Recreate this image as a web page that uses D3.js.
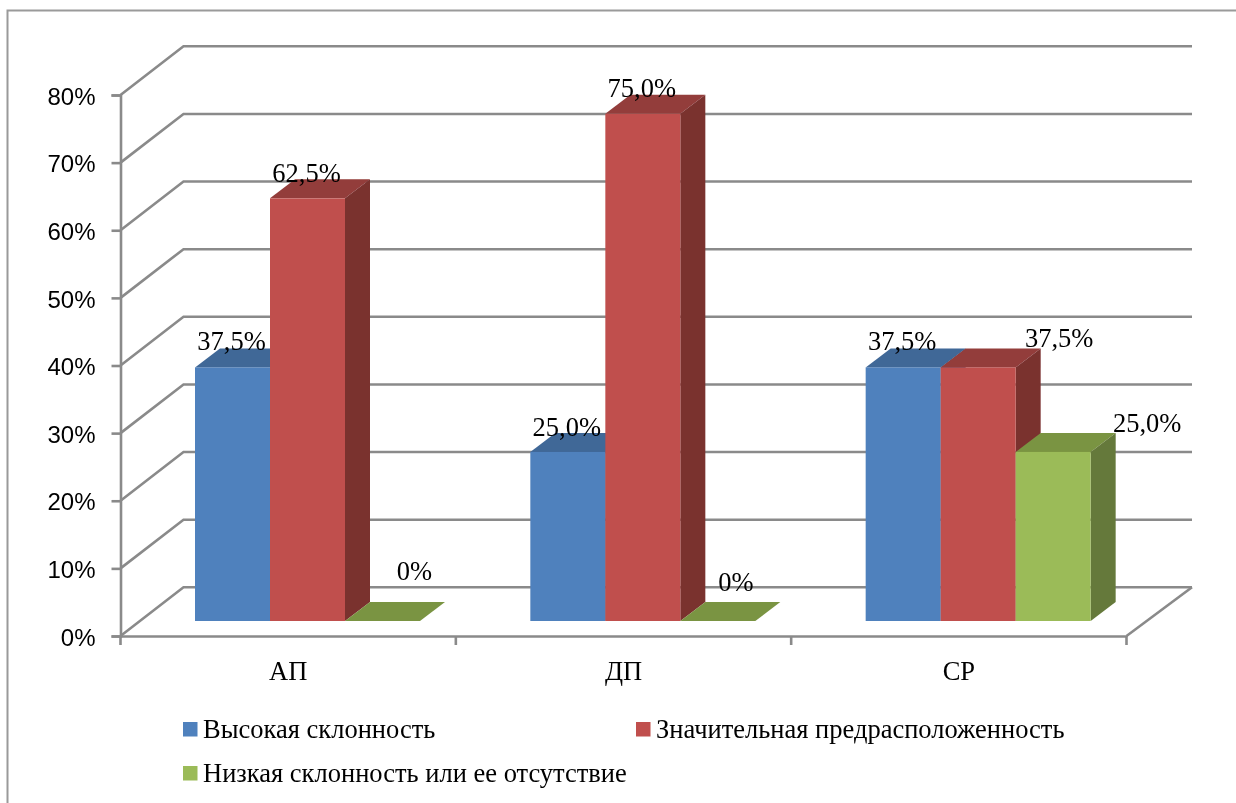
<!DOCTYPE html>
<html>
<head>
<meta charset="utf-8">
<script src="https://cdn.jsdelivr.net/npm/d3@7"></script>
<style>
  html, body { margin: 0; padding: 0; background: #fff; }
  svg { display: block; }
</style>
</head>
<body>
<div id="chart"></div>
<script>
const categories = ["АП", "ДП", "СР"];
const seriesNames = ["Высокая склонность", "Значительная предрасположенность", "Низкая склонность или ее отсутствие"];
const highValues = [37.5, 25, 37.5];
const considerableValues = [62.5, 75, 37.5];
const lowValues = [0, 0, 25];
const valueLabels = [["37,5%", "25,0%", "37,5%"], ["62,5%", "75,0%", "37,5%"], ["0%", "0%", "25,0%"]];
const yTicks = [0, 10, 20, 30, 40, 50, 60, 70, 80];

// hand placed labels in the original, offset from the bar's top centre [dx, dy]
const labelNudges = [
  [[-1, -17], [-1, -16], [-1, -17]],
  [[-1, -16], [-1, -17], [81, -20]],
  [[32, -41], [18, -30], [94, -20]]
];

const width = 1236, height = 803;
const colors = [
  { front: "#4f81bd", top: "#3f6797", side: "#375a85" },
  { front: "#c0504d", top: "#933c3a", side: "#7a302f" },
  { front: "#9bbb59", top: "#7a9442", side: "#65793a" }
];
const gridColor = "#8a8a8a";
const depth = { x: 63, y: -48.7 };
const barDepth = { x: 25, y: -19 };
const barLift = 15;
const backRight = 1192;

const svg = d3.select("#chart").append("svg").attr("width", width).attr("height", height);

// the reference is a slightly soft scan of an Excel chart
svg.append("filter").attr("id", "soft")
  .append("feGaussianBlur").attr("stdDeviation", 0.45);
const root = svg.append("g").attr("filter", "url(#soft)");
root.append("rect").attr("width", width).attr("height", height).attr("fill", "#fff");

const x = d3.scaleBand().domain(categories).range([120.5, 1126.5]);
const y = d3.scaleLinear().domain([0, 80]).range([636, 95]);
const seriesX = d3.scaleBand().domain(seriesNames).range([74.5, 299.5]);

// outer frame
root.append("path")
  .attr("d", "M7.5,803V10.5H1236")
  .attr("fill", "none").attr("stroke", "#9a9a9a").attr("stroke-width", 2);

// back wall, side wall and floor
const grid = root.append("g").attr("fill", "none").attr("stroke", gridColor).attr("stroke-width", 2.6);
yTicks.forEach(t => {
  grid.append("path")
    .attr("d", `M${x.range()[0]},${y(t)}L${x.range()[0] + depth.x},${y(t) + depth.y}H${backRight}`);
});
grid.append("path")
  .attr("d", `M${x.range()[1]},${y(0)}L${backRight},${y(0) + depth.y}`);

// axes
const yAxis = root.append("g")
  .attr("transform", `translate(${x.range()[0]},0)`)
  .call(d3.axisLeft(y).tickValues(yTicks).tickFormat(d => d + "%").tickSize(9).tickPadding(16));
const xAxis = root.append("g")
  .attr("transform", `translate(0,${y(0)})`)
  .call(d3.axisBottom(x).tickSize(0).tickPadding(25));
[yAxis, xAxis].forEach(a => {
  a.select(".domain").attr("stroke", gridColor).attr("stroke-width", 2.6);
  a.selectAll(".tick line").attr("stroke", gridColor).attr("stroke-width", 2.6);
});
yAxis.selectAll("text").attr("font-family", "'Liberation Sans'").attr("font-size", 24).attr("fill", "#000").attr("dy", "0.38em");
xAxis.selectAll("text").attr("font-family", "'Liberation Serif'").attr("font-size", 26.5).attr("fill", "#000");
xAxis.selectAll(".edge")
  .data(categories.map(c => x(c)).concat(x.range()[1]))
  .join("line").attr("class", "edge")
  .attr("x1", d => d).attr("x2", d => d).attr("y1", 0).attr("y2", 9)
  .attr("stroke", gridColor).attr("stroke-width", 2.6);

// bars
const seriesValues = [highValues, considerableValues, lowValues];
const bars = [];
categories.forEach((c, ci) => {
  seriesNames.forEach((s, si) => {
    bars.push({ c, s, si, ci, value: seriesValues[si][ci] });
  });
});
const barW = seriesX.bandwidth();
const barX = d => x(d.c) + seriesX(d.s);
const barTop = d => y(d.value) - barLift;
const barBase = y(0) - barLift;

const bar = root.append("g").selectAll("g").data(bars).join("g");
bar.append("path")
  .attr("fill", d => colors[d.si].top)
  .attr("d", d => `M${barX(d)},${barTop(d)}l${barDepth.x},${barDepth.y}h${barW}l${-barDepth.x},${-barDepth.y}Z`);
bar.filter(d => d.value > 0).append("path")
  .attr("fill", d => colors[d.si].side)
  .attr("d", d => `M${barX(d) + barW},${barTop(d)}l${barDepth.x},${barDepth.y}V${barBase + barDepth.y}l${-barDepth.x},${-barDepth.y}Z`);
bar.filter(d => d.value > 0).append("rect")
  .attr("x", barX).attr("y", barTop)
  .attr("width", barW).attr("height", d => barBase - barTop(d))
  .attr("fill", d => colors[d.si].front);

// data labels
root.append("g").selectAll("text").data(bars).join("text")
  .attr("x", d => barX(d) + barW / 2 + labelNudges[d.si][d.ci][0])
  .attr("y", d => barTop(d) + labelNudges[d.si][d.ci][1])
  .attr("text-anchor", "middle")
  .attr("font-family", "'Liberation Serif'").attr("font-size", 26.5)
  .text(d => valueLabels[d.si][d.ci]);

// legend
const legendPos = [[183, 722], [636, 722], [183, 766]];
const legend = root.append("g").selectAll("g").data(seriesNames).join("g")
  .attr("transform", (d, i) => `translate(${legendPos[i]})`);
legend.append("rect").attr("width", 14.5).attr("height", 14.5).attr("fill", (d, i) => colors[i].front);
legend.append("text")
  .attr("x", 20).attr("y", 16)
  .attr("font-family", "'Liberation Serif'").attr("font-size", 26.5)
  .text(d => d);
</script>
</body>
</html>
